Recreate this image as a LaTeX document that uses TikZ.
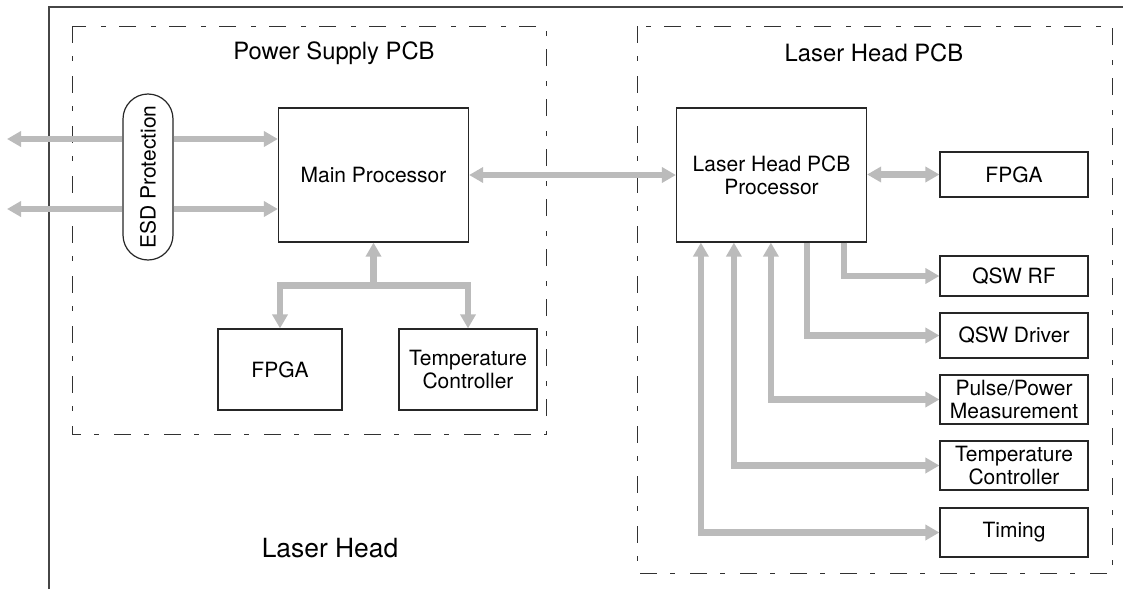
\documentclass[tikz,border=0pt]{standalone}
\usepackage{fontspec}
\setmainfont{TeX Gyre Heros}
\usepackage{tikz}
\usetikzlibrary{arrows.meta,positioning,calc}
\definecolor{busgray}{RGB}{187,187,187}
\definecolor{framegray}{RGB}{70,70,70}
\definecolor{dashgray}{RGB}{50,50,50}
\tikzset{
    blk/.style={draw=black!85, line width=0.6pt, fill=white, inner sep=0pt, align=center, font=\fontsize{10.5}{11.5}\selectfont},
    procblk/.style={blk, minimum width=95pt, minimum height=67pt},
    psblk/.style={blk, minimum height=40.5pt},
    sideblk/.style={blk, minimum width=74pt, minimum height=24.5pt},
    esdblk/.style={blk, rounded corners=12.5pt, minimum width=25pt, minimum height=83pt, font=\fontsize{10.5}{12}\selectfont},
    pcb/.style={draw=dashgray, line width=0.5pt, dash pattern=on 8.5pt off 6.5pt on 2.5pt off 7.5pt},
    outerframe/.style={draw=framegray, line width=0.7pt},
    bus/.style={draw=busgray, line width=3.25pt, >={Triangle[length=7pt,width=7.5pt]}},
    pcbtitle/.style={font=\fontsize{11.9}{14}\selectfont},
    headlabel/.style={font=\fontsize{13.2}{16}\selectfont},
}

\begin{document}
\begin{tikzpicture}[x=0.5pt,y=-0.5pt]
    \useasboundingbox (0,0) rectangle (1123,589);

    % Laser head housing and the two boards
    \draw[outerframe] (49,589) -- (49,7) -- (1123,7);
    \draw[pcb] (72,26) rectangle (546,434);
    \draw[pcb] (637,26) rectangle (1112,573);
    \node[pcbtitle] (pstitle) at (334,53) {Power Supply PCB};
    \node[pcbtitle] (lhtitle) at (874,53) {Laser Head PCB};
    \node[headlabel] (lhlabel) at (330,548) {Laser Head};

    % Power supply board
    \node[esdblk] (esd) at (148,177) {\rotatebox{90}{ESD Protection}};
    \node[procblk] (mp) at (373.5,175) {Main Processor};
    \node[psblk, minimum width=62pt] (psfpga) at (280,369.5) {FPGA};
    \node[psblk, minimum width=69pt] (pstemp) at (468,369.5) {Temperature\\Controller};

    % Laser head board
    \node[procblk] (lhp) at (771.5,175) {Laser Head PCB\\Processor};
    \node[sideblk, minimum height=22.5pt] (lhfpga) at (1014,174.5) {FPGA};
    \node[sideblk, minimum height=20pt] (qswrf) at (1014,276) {QSW RF};
    \node[sideblk, minimum height=22.5pt] (qswdrv) at (1014,335.5) {QSW Driver};
    \node[sideblk] (pulse) at (1014,399.5) {Pulse/Power\\Measurement};
    \node[sideblk] (lhtemp) at (1014,465.5) {Temperature\\Controller};
    \node[sideblk] (timing) at (1014,532.5) {Timing};

    % External lines through ESD
    \coordinate (in1) at (7,139);
    \coordinate (in2) at (7,209);
    \draw[bus,->] (esd.west |- in1) -- (in1);
    \draw[bus,->] (esd.east |- in1) -- (mp.west |- in1);
    \draw[bus,->] (esd.west |- in2) -- (in2);
    \draw[bus,->] (esd.east |- in2) -- (mp.west |- in2);

    % Main processor bus
    \coordinate (split) at ($(mp.south)+(0,43)$);
    \draw[bus,->] (split) -- (mp.south);
    \draw[bus,->] (split) -| (psfpga.north);
    \draw[bus,->] (split) -| (pstemp.north);
    \draw[bus,<->] (mp.east) -- (lhp.west);

    % Laser head processor links
    \draw[bus,<->] (lhp.east |- lhfpga) -- (lhfpga.west);
    \draw[bus,->] ($(lhp.south west)+(168,0)$) |- (qswrf.west);
    \draw[bus,->] ($(lhp.south west)+(131,0)$) |- (qswdrv.west);
    \draw[bus,<->] ($(lhp.south west)+(95,0)$) |- (pulse.west);
    \draw[bus,<->] ($(lhp.south west)+(58,0)$) |- (lhtemp.west);
    \draw[bus,<->] ($(lhp.south west)+(25,0)$) |- (timing.west);
\end{tikzpicture}
\end{document}
